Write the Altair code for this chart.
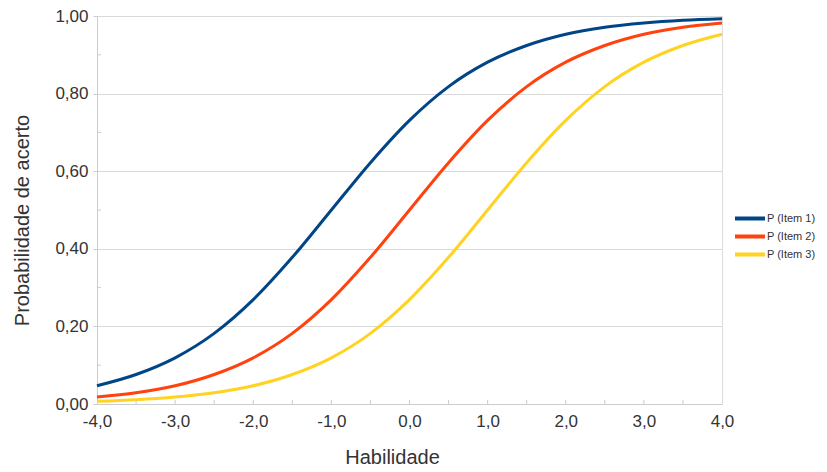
import altair as alt
import pandas as pd

habilidade = [-4.0, -3.5, -3.0, -2.5, -2.0, -1.5, -1.0, -0.5, 0.0, 0.5, 1.0, 1.5, 2.0, 2.5, 3.0, 3.5, 4.0]
item1 = [0.047, 0.076, 0.119, 0.182, 0.269, 0.378, 0.500, 0.622, 0.731, 0.818, 0.881, 0.924, 0.953, 0.971, 0.982, 0.989, 0.993]
item2 = [0.018, 0.029, 0.047, 0.076, 0.119, 0.182, 0.269, 0.378, 0.500, 0.622, 0.731, 0.818, 0.881, 0.924, 0.953, 0.971, 0.982]
item3 = [0.007, 0.011, 0.018, 0.029, 0.047, 0.076, 0.119, 0.182, 0.269, 0.378, 0.500, 0.622, 0.731, 0.818, 0.881, 0.924, 0.953]

series_names = ["P (Item 1)", "P (Item 2)", "P (Item 3)"]
colors = ["#004586", "#ff420e", "#ffd320"]
y_ticks = [0.0, 0.2, 0.4, 0.6, 0.8, 1.0]
y_minor = [0.1, 0.3, 0.5, 0.7, 0.9]
x_ticks = [-4.0, -3.0, -2.0, -1.0, 0.0, 1.0, 2.0, 3.0, 4.0]
x_minor = [-3.5, -3.0, -2.5, -2.0, -1.5, -1.0, -0.5, 0.0, 0.5, 1.0, 1.5, 2.0, 2.5, 3.0, 3.5]

rows = []
for name, vals in zip(series_names, [item1, item2, item3]):
    for xv, yv in zip(habilidade, vals):
        rows.append({"x": xv, "p": yv, "serie": name})
df = pd.DataFrame(rows)

W, H = 625, 388
FONT = "Liberation Sans"
GRAY = "#cccccc"
TXT = "#333333"

xscale = alt.Scale(domain=[-4, 4], nice=False, zero=False)
yscale = alt.Scale(domain=[0, 1], nice=False)

minus_fix = "\u2212"

lines = alt.Chart(df).mark_line(strokeWidth=3, interpolate="monotone").encode(
    x=alt.X("x:Q", scale=xscale, axis=alt.Axis(
        values=x_ticks, title="Habilidade", grid=False, ticks=False, labelFlush=False,
        labelExpr="replace(replace(format(datum.value, '.1f'), '.', ','), '" + minus_fix + "', '-')",
        labelFontSize=17, labelColor=TXT, labelPadding=9, labelFont=FONT,
        domainColor=GRAY, titleFontSize=20, titleFontWeight="normal", titleColor=TXT,
        titleFont=FONT, titleX=295, titleY=53, titleBaseline="middle", titleAlign="center")),
    y=alt.Y("p:Q", scale=yscale, axis=alt.Axis(
        values=y_ticks, title="Probabilidade de acerto", grid=True, gridColor="#d9d9d9",
        ticks=True, tickSize=4, tickColor=GRAY, domainColor=GRAY,
        labelExpr="replace(format(datum.value, '.2f'), '.', ',')",
        labelFontSize=17, labelColor=TXT, labelPadding=5, labelFont=FONT,
        titleFontSize=20, titleFontWeight="normal", titleColor=TXT, titleFont=FONT,
        titleX=-75, titleY=204, titleAngle=270, titleBaseline="middle", titleAlign="center")),
    color=alt.Color("serie:N", scale=alt.Scale(domain=series_names, range=colors),
                    legend=alt.Legend(title=None, orient="none", legendX=636, legendY=193,
                                      symbolType="M-1,0H3", symbolSize=225, symbolStrokeWidth=4,
                                      labelFontSize=11, labelFont=FONT, labelColor=TXT,
                                      rowPadding=0, labelOffset=15, labelLimit=200)),
)

xminor_df = pd.DataFrame({"x": x_minor})
yminor_df = pd.DataFrame({"p": y_minor})

xmin = alt.Chart(xminor_df).mark_rule(color=GRAY, strokeWidth=1).encode(
    x=alt.X("x:Q", scale=xscale),
    y=alt.value(H), y2=alt.value(H - 4))
ymin = alt.Chart(yminor_df).mark_rule(color=GRAY, strokeWidth=1).encode(
    y=alt.Y("p:Q", scale=yscale),
    x=alt.value(0), x2=alt.value(4))

chart = alt.layer(lines, xmin, ymin).properties(
    width=W, height=H,
    autosize=alt.AutoSizeParams(type="none"),
    padding={"left": 89, "top": 8, "right": 97, "bottom": 64},
).configure_view(stroke=GRAY).configure(font=FONT)

chart.save("out.html", embed_options={"renderer": "svg", "actions": False})
